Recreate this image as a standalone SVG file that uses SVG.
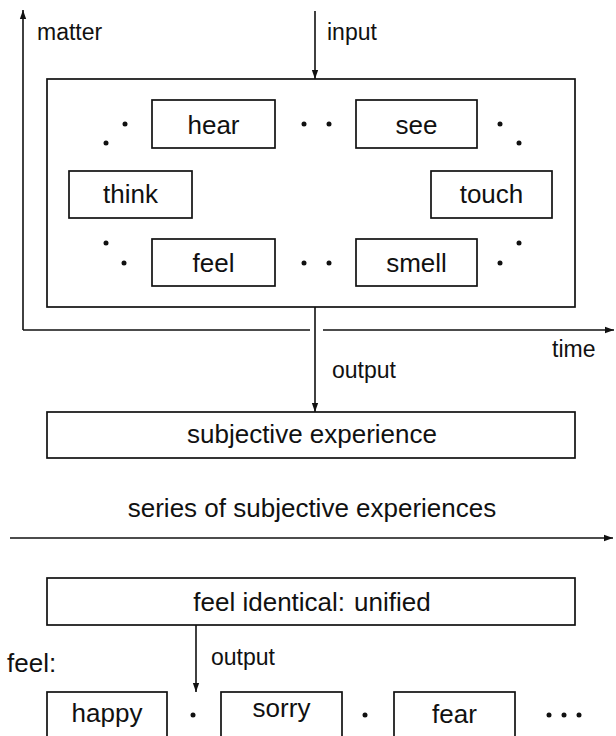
<svg xmlns="http://www.w3.org/2000/svg" width="616" height="736" viewBox="0 0 616 736">
<defs>
<marker id="ah" viewBox="0 0 10 10" refX="10" refY="5" markerWidth="9" markerHeight="9" markerUnits="userSpaceOnUse" orient="auto">
<path d="M0,1.5 L10,5 L0,8.5 Z" fill="#111"/>
</marker>
<style>
.box{fill:#fff;stroke:#111;stroke-width:1.7}
.ln{fill:none;stroke:#111;stroke-width:1.6}
.t{font-family:"Liberation Sans",Arial,sans-serif;font-size:26px;fill:#111;text-anchor:middle}
.s{font-family:"Liberation Sans",Arial,sans-serif;font-size:23px;fill:#111}
.d{fill:#111}
</style>
</defs>
<rect width="616" height="736" fill="#fff"/>
<g id="connectors">
<line class="ln" x1="23" y1="330" x2="23" y2="10" marker-end="url(#ah)"/>
<line class="ln" x1="23" y1="330" x2="310" y2="330"/>
<line class="ln" x1="323" y1="330" x2="614" y2="330" marker-end="url(#ah)"/>
<line class="ln" x1="315" y1="11" x2="315" y2="79" marker-end="url(#ah)"/>
<line class="ln" x1="315" y1="307" x2="315" y2="412" marker-end="url(#ah)"/>
<line class="ln" x1="10" y1="538" x2="613" y2="538" marker-end="url(#ah)"/>
<line class="ln" x1="196" y1="625" x2="196" y2="692" marker-end="url(#ah)"/>
</g>
<g id="labels">
<text class="s" x="37" y="40">matter</text>
<text class="s" x="327" y="40">input</text>
<text class="s" x="552" y="357">time</text>
<text class="s" x="332" y="378">output</text>
<text class="t" x="312" y="517">series of subjective experiences</text>
<text class="t" x="7" y="672" style="text-anchor:start">feel:</text>
<text class="s" x="211" y="665">output</text>
</g>
<g id="container">
<rect class="box" x="47" y="79" width="528" height="228"/>
</g>
<g id="hear"><rect class="box" x="152" y="100" width="123" height="48"/><text class="t" x="213.5" y="134">hear</text></g>
<g id="see"><rect class="box" x="356" y="100" width="121" height="48"/><text class="t" x="416.5" y="134">see</text></g>
<g id="think"><rect class="box" x="69" y="171" width="123" height="47"/><text class="t" x="130.5" y="203">think</text></g>
<g id="touch"><rect class="box" x="431" y="171" width="121" height="47"/><text class="t" x="491.5" y="203">touch</text></g>
<g id="feel"><rect class="box" x="152" y="239" width="123" height="47"/><text class="t" x="213.5" y="272">feel</text></g>
<g id="smell"><rect class="box" x="356" y="239" width="121" height="47"/><text class="t" x="416.5" y="272">smell</text></g>
<g id="dots">
<circle class="d" cx="106" cy="143" r="2.5"/><circle class="d" cx="125" cy="124" r="2.5"/>
<circle class="d" cx="304" cy="124" r="2.5"/><circle class="d" cx="329" cy="124" r="2.5"/>
<circle class="d" cx="500" cy="124" r="2.5"/><circle class="d" cx="519" cy="143" r="2.5"/>
<circle class="d" cx="106" cy="243" r="2.5"/><circle class="d" cx="124" cy="263" r="2.5"/>
<circle class="d" cx="304" cy="263" r="2.5"/><circle class="d" cx="329" cy="263" r="2.5"/>
<circle class="d" cx="500" cy="263" r="2.5"/><circle class="d" cx="519" cy="243" r="2.5"/>
<circle class="d" cx="193" cy="715" r="2.5"/><circle class="d" cx="365" cy="715" r="2.5"/>
<circle class="d" cx="549" cy="715" r="2.5"/><circle class="d" cx="564" cy="715" r="2.5"/><circle class="d" cx="579" cy="715" r="2.5"/>
</g>
<g id="subjective"><rect class="box" x="47" y="412" width="528" height="46"/><text class="t" x="312" y="443">subjective experience</text></g>
<g id="unified"><rect class="box" x="47" y="578" width="528" height="47"/><text class="t" x="312" y="611">feel identical:<tspan dx="9">unified</tspan></text></g>
<g id="happy"><rect class="box" x="47" y="692" width="120" height="50"/><text class="t" x="107" y="722">happy</text></g>
<g id="sorry"><rect class="box" x="221" y="692" width="121" height="50"/><text class="t" x="281.5" y="717">sorry</text></g>
<g id="fear"><rect class="box" x="394" y="692" width="121" height="50"/><text class="t" x="454.5" y="723">fear</text></g>
</svg>
